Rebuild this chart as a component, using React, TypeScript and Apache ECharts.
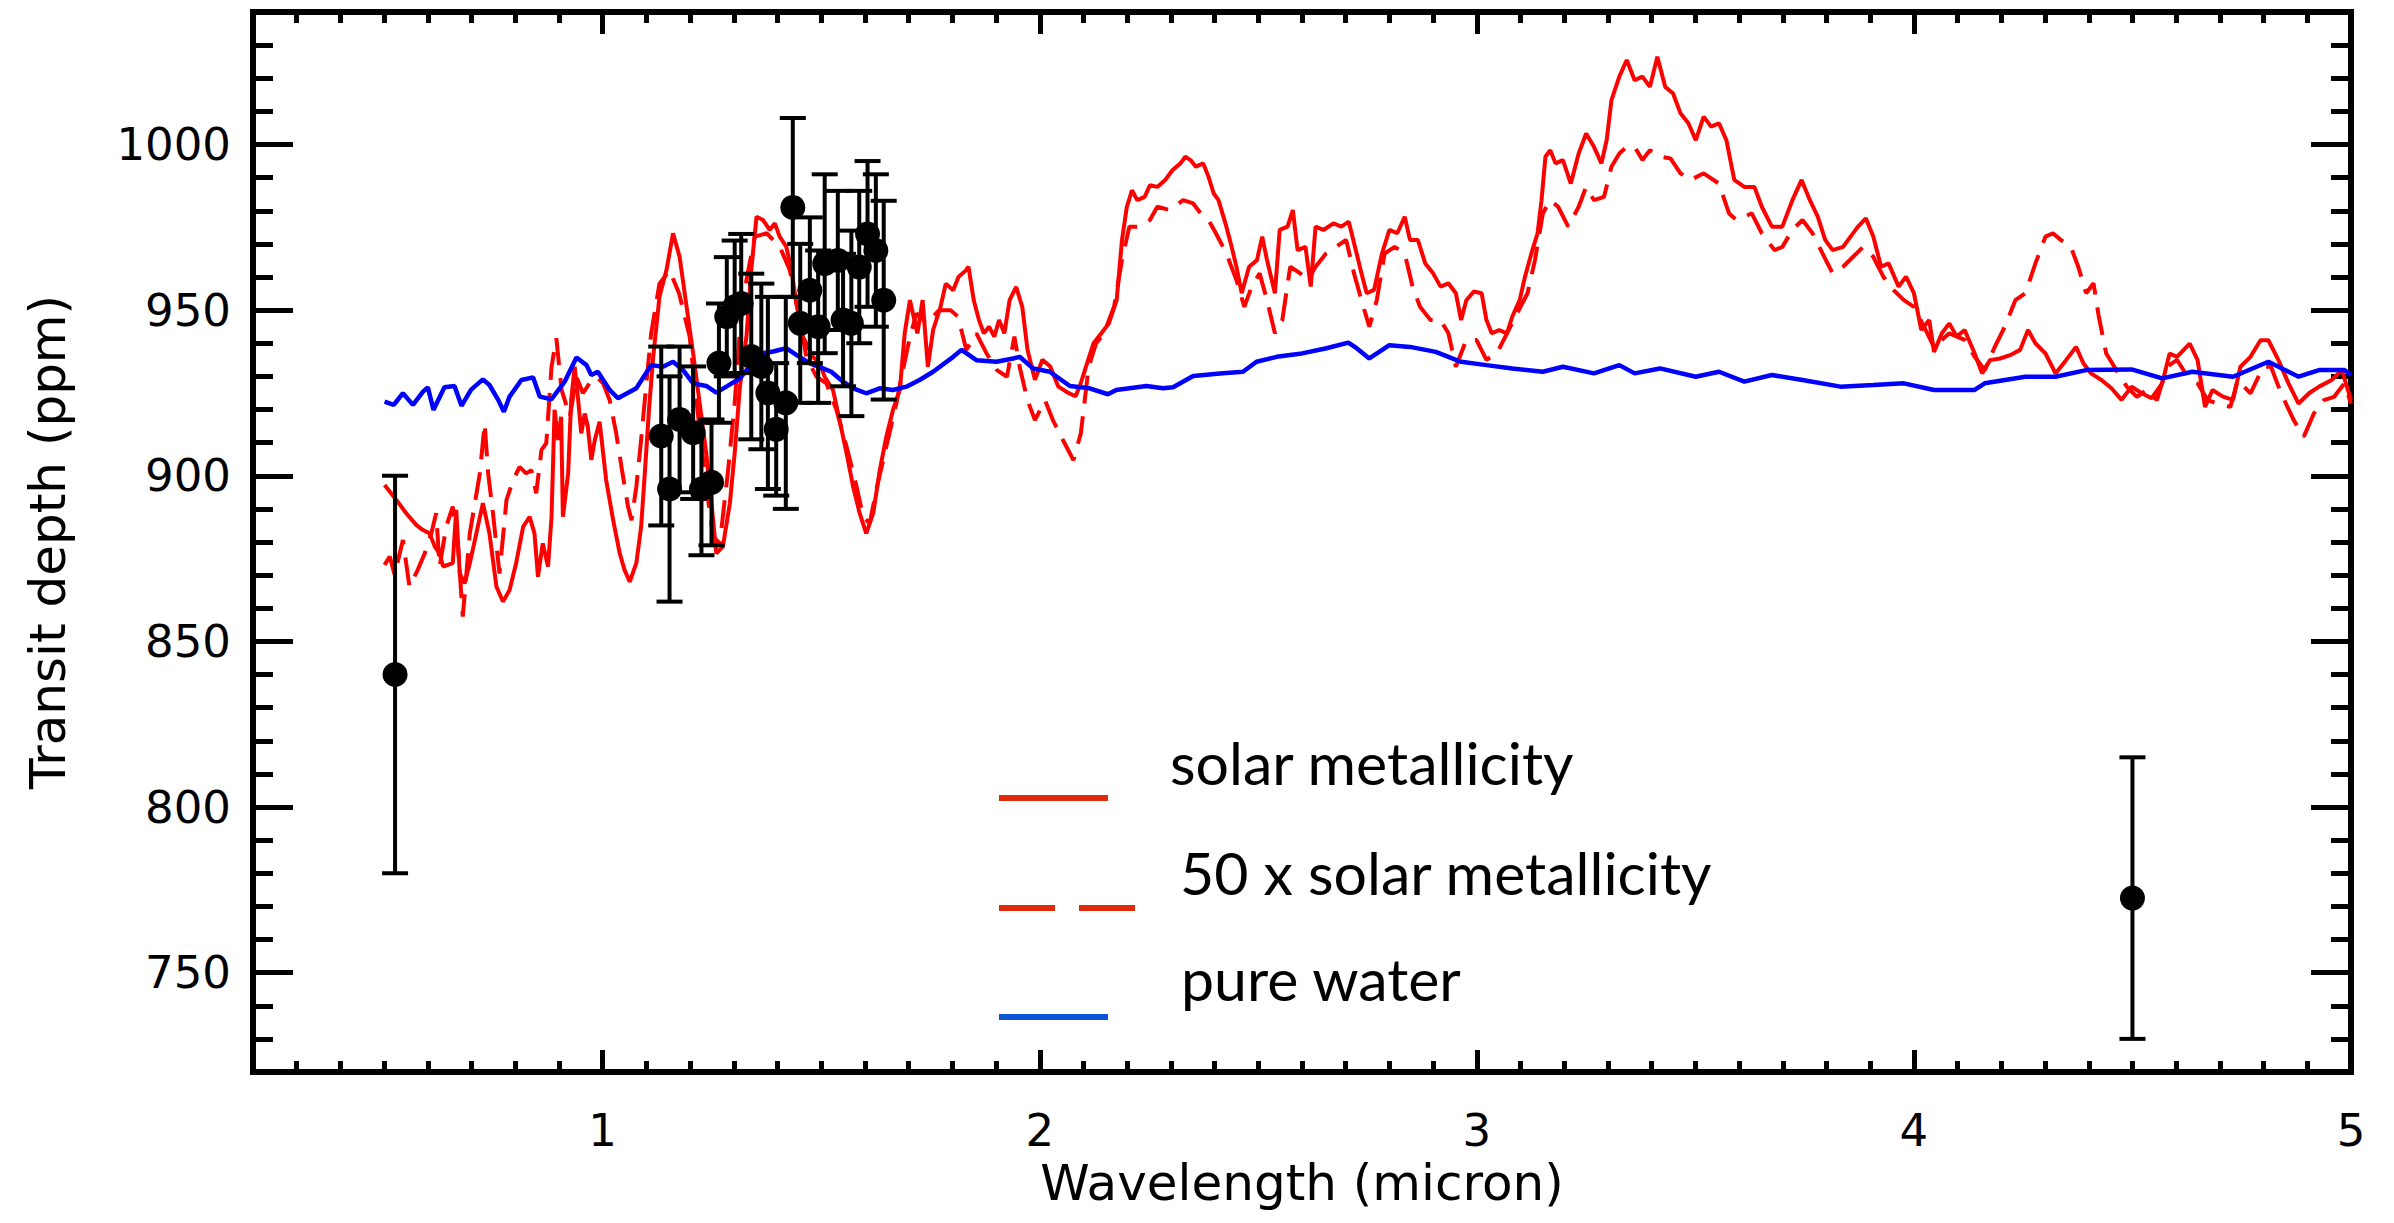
import React, { useEffect, useRef } from "react";
import * as echarts from "echarts";

// Model transmission spectra: [wavelength (micron), transit depth (ppm)]
const solarMetallicity: [number, number][] = [
  [0.501, 897.2], [0.528, 892.7], [0.551, 888.6], [0.574, 885.1], [0.589, 883.6], [0.604, 882.6],
  [0.616, 878.6], [0.627, 876.5], [0.635, 872.6], [0.657, 873.6], [0.665, 889.7], [0.673, 870.5],
  [0.684, 867.5], [0.696, 873.6], [0.711, 882.6], [0.726, 891.7], [0.741, 882.6], [0.757, 866.5],
  [0.772, 862.0], [0.787, 865.5], [0.802, 873.6], [0.818, 884.6], [0.833, 887.6], [0.844, 882.6],
  [0.852, 869.5], [0.863, 879.6], [0.875, 872.6], [0.883, 887.6], [0.890, 919.9], [0.898, 910.8],
  [0.905, 917.8], [0.909, 887.6], [0.921, 900.7], [0.928, 922.9], [0.936, 932.9], [0.944, 922.9],
  [0.951, 912.8], [0.959, 918.8], [0.966, 914.8], [0.974, 904.8], [0.982, 910.8], [0.993, 916.3],
  [1.008, 898.7], [1.024, 886.6], [1.039, 876.6], [1.050, 871.6], [1.062, 868.0], [1.077, 873.6],
  [1.088, 884.6], [1.096, 900.0], [1.106, 920.0], [1.115, 935.0], [1.130, 954.1], [1.146, 962.1],
  [1.161, 973.2], [1.176, 966.1], [1.191, 952.0], [1.207, 936.9], [1.222, 921.9], [1.237, 906.8],
  [1.249, 891.7], [1.260, 876.6], [1.275, 878.6], [1.291, 891.7], [1.302, 906.8], [1.314, 926.9],
  [1.329, 942.0], [1.340, 962.1], [1.352, 978.2], [1.367, 977.2], [1.382, 974.2], [1.394, 976.2],
  [1.405, 972.2], [1.420, 969.2], [1.432, 962.1], [1.443, 952.0], [1.458, 942.0], [1.481, 935.9],
  [1.497, 933.9], [1.508, 929.9], [1.527, 925.9], [1.542, 916.8], [1.558, 906.8], [1.573, 896.7],
  [1.588, 888.7], [1.603, 882.6], [1.619, 888.7], [1.634, 901.7], [1.649, 911.8], [1.664, 919.8],
  [1.680, 926.0], [1.691, 943.0], [1.703, 953.0], [1.720, 943.0], [1.732, 953.0], [1.744, 932.9],
  [1.756, 944.0], [1.773, 951.0], [1.785, 958.0], [1.802, 956.0], [1.814, 960.0], [1.831, 962.0],
  [1.837, 963.1], [1.849, 953.0], [1.861, 947.0], [1.872, 943.0], [1.884, 945.0], [1.896, 942.0],
  [1.907, 947.0], [1.919, 943.0], [1.931, 953.0], [1.946, 957.0], [1.960, 951.0], [1.972, 938.0],
  [1.989, 929.0], [2.006, 935.0], [2.024, 933.0], [2.042, 927.0], [2.065, 925.0], [2.082, 924.0],
  [2.094, 928.0], [2.106, 933.0], [2.123, 940.0], [2.141, 943.0], [2.158, 946.0], [2.176, 953.0],
  [2.188, 971.0], [2.199, 981.0], [2.211, 986.2], [2.223, 983.2], [2.240, 984.2], [2.252, 987.7],
  [2.269, 987.2], [2.287, 989.3], [2.304, 992.3], [2.322, 994.3], [2.333, 996.3], [2.345, 995.3],
  [2.357, 993.3], [2.374, 994.3], [2.386, 990.3], [2.398, 985.2], [2.409, 983.2], [2.427, 975.2],
  [2.439, 969.1], [2.450, 963.1], [2.462, 955.1], [2.479, 963.1], [2.497, 965.1], [2.509, 972.2],
  [2.520, 965.1], [2.538, 955.1], [2.549, 974.2], [2.567, 975.2], [2.579, 980.2], [2.590, 968.1],
  [2.608, 969.1], [2.620, 957.1], [2.631, 975.2], [2.649, 974.2], [2.672, 976.2], [2.690, 975.2],
  [2.707, 976.7], [2.725, 967.1], [2.736, 961.1], [2.748, 955.1], [2.765, 956.1], [2.783, 967.1],
  [2.800, 974.2], [2.818, 973.2], [2.835, 978.2], [2.847, 971.2], [2.865, 971.2], [2.882, 964.1],
  [2.900, 961.1], [2.917, 957.1], [2.935, 958.1], [2.952, 955.1], [2.964, 947.0], [2.976, 953.0],
  [2.993, 955.6], [3.011, 955.1], [3.022, 947.0], [3.034, 943.0], [3.051, 944.0], [3.069, 943.0],
  [3.081, 948.0], [3.098, 953.0], [3.110, 960.0], [3.127, 968.1], [3.139, 973.2], [3.148, 983.2],
  [3.157, 996.3], [3.168, 998.3], [3.180, 994.3], [3.197, 995.3], [3.215, 988.2], [3.233, 997.3],
  [3.250, 1003.3], [3.268, 999.3], [3.285, 994.3], [3.297, 1001.3], [3.308, 1013.4], [3.326, 1020.5],
  [3.343, 1025.5], [3.361, 1019.4], [3.379, 1020.5], [3.396, 1017.4], [3.413, 1026.5], [3.431, 1017.4],
  [3.449, 1015.4], [3.466, 1009.4], [3.484, 1006.4], [3.501, 1001.3], [3.519, 1008.4], [3.536, 1005.4],
  [3.554, 1006.4], [3.571, 1001.3], [3.589, 989.3], [3.612, 987.2], [3.635, 987.2], [3.652, 981.2],
  [3.675, 975.2], [3.699, 975.2], [3.722, 983.2], [3.743, 989.3], [3.762, 983.2], [3.780, 978.2],
  [3.797, 971.2], [3.814, 968.1], [3.838, 969.1], [3.855, 972.2], [3.872, 975.2], [3.890, 977.7],
  [3.907, 972.2], [3.925, 963.1], [3.942, 964.1], [3.965, 957.1], [3.982, 960.1], [4.000, 955.1],
  [4.017, 944.0], [4.035, 947.0], [4.046, 937.4], [4.064, 943.0], [4.081, 946.0], [4.098, 942.0],
  [4.116, 944.0], [4.139, 936.9], [4.156, 930.9], [4.174, 934.9], [4.197, 935.4], [4.220, 936.4],
  [4.243, 938.0], [4.261, 944.0], [4.278, 940.0], [4.301, 936.9], [4.324, 930.9], [4.348, 934.9],
  [4.371, 938.9], [4.388, 933.9], [4.405, 930.9], [4.429, 928.9], [4.452, 926.4], [4.475, 922.9],
  [4.498, 926.9], [4.521, 924.9], [4.544, 923.4], [4.568, 927.9], [4.585, 936.9], [4.602, 935.9],
  [4.631, 939.9], [4.649, 934.9], [4.666, 920.8], [4.683, 925.9], [4.707, 923.9], [4.730, 922.9],
  [4.747, 932.9], [4.770, 935.9], [4.793, 940.9], [4.811, 940.9], [4.834, 934.9], [4.857, 927.9],
  [4.880, 921.8], [4.904, 924.9], [4.927, 926.9], [4.956, 928.9], [4.979, 931.9], [5.000, 922.9],
];

const fiftyTimesSolar: [number, number][] = [
  [0.501, 873.1], [0.513, 875.6], [0.524, 870.1], [0.543, 880.6], [0.558, 866.5], [0.577, 871.6],
  [0.593, 876.6], [0.608, 882.6], [0.619, 888.7], [0.627, 872.6], [0.642, 884.6], [0.657, 890.7],
  [0.669, 878.6], [0.680, 857.5], [0.696, 882.6], [0.719, 900.7], [0.730, 915.8], [0.738, 900.7],
  [0.749, 888.7], [0.764, 870.5], [0.780, 892.7], [0.795, 898.7], [0.810, 902.7], [0.825, 900.7],
  [0.837, 901.7], [0.848, 894.7], [0.860, 907.8], [0.871, 909.8], [0.883, 932.9], [0.894, 941.5],
  [0.906, 925.9], [0.925, 917.8], [0.940, 929.9], [0.955, 924.9], [0.970, 927.9], [0.986, 929.9],
  [1.001, 927.9], [1.016, 922.9], [1.031, 912.8], [1.043, 902.7], [1.058, 890.7], [1.066, 886.6],
  [1.077, 896.7], [1.088, 910.8], [1.100, 927.9], [1.111, 943.0], [1.130, 958.0], [1.153, 962.0],
  [1.175, 955.0], [1.199, 942.0], [1.222, 913.8], [1.237, 896.7], [1.253, 881.6], [1.268, 879.6],
  [1.287, 901.7], [1.302, 921.9], [1.314, 944.0], [1.329, 959.1], [1.348, 972.2], [1.375, 973.2],
  [1.405, 969.2], [1.428, 962.1], [1.447, 950.0], [1.466, 935.9], [1.489, 929.9], [1.512, 927.9],
  [1.535, 919.8], [1.558, 908.8], [1.581, 896.7], [1.596, 887.6], [1.611, 885.6], [1.626, 895.7],
  [1.649, 908.8], [1.672, 921.9], [1.687, 931.9], [1.703, 942.0], [1.718, 949.0], [1.741, 946.0],
  [1.770, 950.0], [1.796, 950.0], [1.813, 948.0], [1.832, 938.0], [1.855, 943.0], [1.878, 937.0],
  [1.902, 931.9], [1.925, 929.9], [1.942, 942.0], [1.954, 932.9], [1.972, 922.8], [1.989, 916.8],
  [2.012, 922.8], [2.030, 916.8], [2.053, 910.8], [2.077, 904.7], [2.094, 912.8], [2.112, 932.9],
  [2.129, 940.0], [2.147, 943.0], [2.170, 951.0], [2.188, 965.1], [2.205, 975.2], [2.228, 975.2],
  [2.252, 977.2], [2.269, 981.2], [2.298, 980.2], [2.328, 983.2], [2.351, 982.2], [2.368, 979.2],
  [2.386, 977.2], [2.403, 973.2], [2.427, 967.1], [2.450, 959.1], [2.468, 951.0], [2.485, 957.1],
  [2.503, 961.1], [2.520, 953.0], [2.538, 943.0], [2.555, 947.0], [2.573, 963.1], [2.596, 961.1],
  [2.614, 959.1], [2.631, 963.1], [2.655, 967.1], [2.678, 969.1], [2.701, 971.2], [2.719, 961.1],
  [2.736, 953.0], [2.754, 945.0], [2.771, 953.0], [2.789, 967.1], [2.812, 969.1], [2.835, 967.1],
  [2.853, 957.1], [2.870, 951.0], [2.894, 947.0], [2.917, 947.0], [2.935, 943.0], [2.952, 932.9],
  [2.976, 941.0], [2.999, 941.0], [3.022, 935.0], [3.046, 937.0], [3.069, 943.0], [3.092, 949.0],
  [3.116, 955.1], [3.133, 965.1], [3.151, 979.2], [3.168, 983.2], [3.186, 981.2], [3.209, 975.2],
  [3.233, 981.2], [3.250, 987.2], [3.268, 983.2], [3.291, 984.2], [3.308, 993.3], [3.326, 997.3],
  [3.343, 999.3], [3.361, 999.3], [3.379, 995.3], [3.396, 998.3], [3.419, 996.3], [3.443, 995.8],
  [3.466, 991.3], [3.489, 989.3], [3.519, 991.3], [3.554, 988.2], [3.577, 979.2], [3.594, 977.2],
  [3.629, 979.2], [3.652, 973.2], [3.681, 968.1], [3.699, 969.1], [3.722, 974.2], [3.745, 977.2],
  [3.768, 973.2], [3.791, 967.1], [3.814, 961.1], [3.838, 963.1], [3.861, 966.1], [3.884, 969.1],
  [3.907, 966.1], [3.930, 960.1], [3.953, 956.1], [3.977, 953.0], [4.000, 951.0], [4.023, 945.0],
  [4.046, 938.9], [4.081, 943.0], [4.116, 941.0], [4.139, 935.9], [4.162, 931.9], [4.185, 938.9],
  [4.208, 945.0], [4.232, 953.0], [4.255, 955.1], [4.278, 964.1], [4.301, 972.2], [4.318, 973.2],
  [4.336, 971.2], [4.359, 969.1], [4.376, 963.1], [4.394, 955.1], [4.411, 958.1], [4.423, 948.0],
  [4.440, 936.9], [4.463, 931.9], [4.487, 926.9], [4.510, 923.8], [4.533, 925.9], [4.556, 922.8],
  [4.579, 932.9], [4.602, 935.0], [4.626, 929.9], [4.649, 927.9], [4.672, 922.8], [4.695, 921.8],
  [4.724, 920.8], [4.741, 928.9], [4.770, 924.9], [4.799, 932.9], [4.817, 932.9], [4.840, 924.9],
  [4.869, 916.8], [4.892, 911.8], [4.915, 918.8], [4.938, 922.8], [4.961, 923.8], [4.985, 927.9],
  [5.000, 921.8],
];

const pureWater: [number, number][] = [
  [0.501, 922.4], [0.522, 921.4], [0.543, 924.9], [0.566, 921.4], [0.589, 925.4], [0.600, 926.7],
  [0.613, 919.9], [0.638, 926.7], [0.661, 927.1], [0.677, 921.1], [0.699, 926.0], [0.726, 929.1],
  [0.741, 927.4], [0.761, 922.9], [0.774, 919.3], [0.787, 923.9], [0.814, 928.9], [0.841, 929.7],
  [0.856, 923.9], [0.883, 923.1], [0.913, 928.4], [0.940, 935.7], [0.963, 933.4], [0.974, 930.4],
  [0.989, 931.4], [1.016, 925.9], [1.035, 923.4], [1.077, 926.4], [1.111, 933.4], [1.138, 932.9],
  [1.161, 934.4], [1.184, 931.9], [1.207, 927.9], [1.237, 927.1], [1.260, 925.1], [1.283, 926.9],
  [1.314, 929.4], [1.336, 932.9], [1.363, 936.9], [1.390, 937.5], [1.420, 938.5], [1.443, 936.5],
  [1.474, 933.9], [1.504, 932.4], [1.523, 931.4], [1.550, 928.4], [1.573, 926.4], [1.603, 924.9],
  [1.634, 926.4], [1.664, 925.9], [1.695, 926.9], [1.725, 928.9], [1.756, 931.4], [1.802, 935.9],
  [1.821, 938.0], [1.855, 934.9], [1.901, 934.4], [1.939, 935.4], [1.954, 935.9], [1.985, 932.4],
  [2.023, 931.4], [2.069, 927.1], [2.114, 926.4], [2.156, 924.6], [2.175, 925.9], [2.244, 927.1],
  [2.282, 926.4], [2.305, 926.7], [2.351, 930.1], [2.412, 930.9], [2.465, 931.4], [2.496, 934.4],
  [2.542, 935.9], [2.595, 936.8], [2.656, 938.5], [2.706, 940.2], [2.725, 938.5], [2.754, 935.4],
  [2.800, 939.4], [2.847, 938.9], [2.906, 937.4], [2.964, 934.4], [3.022, 933.4], [3.081, 932.4],
  [3.151, 931.4], [3.197, 932.9], [3.268, 930.9], [3.326, 933.4], [3.361, 930.9], [3.419, 932.4],
  [3.501, 929.9], [3.554, 931.4], [3.612, 928.4], [3.675, 930.4], [3.745, 928.9], [3.832, 926.9],
  [3.907, 927.4], [3.977, 927.9], [4.046, 925.9], [4.139, 925.9], [4.162, 927.9], [4.255, 929.9],
  [4.324, 929.9], [4.394, 931.9], [4.498, 932.1], [4.568, 929.4], [4.637, 931.4], [4.730, 929.9],
  [4.811, 934.4], [4.880, 929.9], [4.927, 931.9], [4.985, 931.9], [5.000, 930.4],
];

// Measured transit depths with 1-sigma uncertainties
const obsWavelength = [
  0.525, 1.134, 1.153, 1.176, 1.207, 1.226, 1.249, 1.266, 1.284, 1.302, 1.317, 1.340, 1.363, 1.378,
  1.397, 1.419, 1.435, 1.452, 1.474, 1.493, 1.508, 1.538, 1.550, 1.569, 1.587, 1.606, 1.625, 1.643, 4.5,
];
const obsDepth = [
  840, 912, 896, 917, 913, 896, 898, 934, 948, 951, 952, 936, 933, 925,
  914, 922, 981, 946, 956, 945, 964, 965, 947, 946, 963, 973, 968, 953, 772.5,
];
const obsError = [
  60, 27, 34, 22, 20, 20, 19, 18, 18, 20, 21, 25, 25, 29,
  20, 32, 27, 24, 22, 23, 27, 21, 20, 28, 23, 22, 23, 30, 42.5,
];

const xMajorTicks = [1, 2, 3, 4, 5];
const yMajorTicks = [750, 800, 850, 900, 950, 1000];
const legendLabels = ["solar metallicity", "50 x solar metallicity", "pure water"];

// Minor ticks every 0.1 micron and every 10 ppm, skipping the labelled ones
const xMinorTicks: number[] = [];
for (let i = 3; i <= 49; i++) if (i % 10 !== 0) xMinorTicks.push(i / 10);
const yMinorTicks: number[] = [];
for (let v = 730; v <= 1030; v += 10) if (v % 50 !== 0) yMinorTicks.push(v);

const FRAME = { color: "#000", width: 6, cap: "square" as const };
const TICK_STYLE = { color: "#000", width: 5 };
const LABEL_FONT = "DejaVu Sans";

function xAxisDef(position: "top" | "bottom", ticks: number[], len: number, frame: boolean, labels: boolean) {
  return {
    type: "value",
    min: 0.2,
    max: 5,
    position,
    axisLine: { show: frame, onZero: false, lineStyle: FRAME },
    axisTick: { show: true, inside: true, length: len, customValues: ticks, lineStyle: TICK_STYLE },
    axisLabel: labels
      ? {
          show: true,
          customValues: ticks,
          margin: 36,
          fontSize: 45,
          fontFamily: LABEL_FONT,
          color: "#000",
          formatter: (v: number) => String(v),
        }
      : { show: false },
    splitLine: { show: false },
  };
}

function yAxisDef(position: "left" | "right", ticks: number[], len: number, frame: boolean, labels: boolean) {
  return {
    type: "value",
    min: 720,
    max: 1040,
    position,
    axisLine: { show: frame, onZero: false, lineStyle: FRAME },
    axisTick: { show: true, inside: true, length: len, customValues: ticks, lineStyle: TICK_STYLE },
    axisLabel: labels
      ? {
          show: true,
          customValues: ticks,
          margin: 22,
          fontSize: 45,
          fontFamily: LABEL_FONT,
          color: "#000",
          formatter: (v: number) => String(v),
        }
      : { show: false },
    splitLine: { show: false },
  };
}

const LEGEND_RED = "#e02a0c";
const LEGEND_BLUE = "#0a55d6";

export default function App() {
  const ref = useRef<HTMLDivElement>(null);

  useEffect(() => {
    if (!ref.current) return;
    const chart = echarts.init(ref.current, null, { renderer: "svg" });

    const xBottom = {
      ...xAxisDef("bottom", xMajorTicks, 22, true, true),
      name: "Wavelength (micron)",
      nameLocation: "middle",
      nameGap: 84,
      nameTextStyle: { fontSize: 50, fontFamily: LABEL_FONT, color: "#000" },
    };
    const yLeft = {
      ...yAxisDef("left", yMajorTicks, 40, true, true),
      name: "Transit depth (ppm)",
      nameLocation: "middle",
      nameGap: 180,
      nameTextStyle: { fontSize: 50, fontFamily: LABEL_FONT, color: "#000" },
    };

    const errorData = obsWavelength.map((w, i) => [w, obsDepth[i], obsError[i]]);
    const pointData = obsWavelength.map((w, i) => [w, obsDepth[i]]);

    const legendText = (text: string, x: number, y: number) => ({
      type: "text",
      x,
      y,
      style: { text, fontSize: 59, fontFamily: "Lato", fill: "#000", verticalAlign: "middle", textVerticalAlign: "middle" },
    });

    chart.setOption({
      animation: false,
      backgroundColor: "#fff",
      grid: { left: 253, right: 43, top: 12, bottom: 151, containLabel: false },
      xAxis: [
        xBottom,
        xAxisDef("bottom", xMinorTicks, 11, false, false),
        xAxisDef("top", xMajorTicks, 22, true, false),
        xAxisDef("top", xMinorTicks, 11, false, false),
      ],
      yAxis: [
        yLeft,
        yAxisDef("left", yMinorTicks, 20, false, false),
        yAxisDef("right", yMajorTicks, 40, true, false),
        yAxisDef("right", yMinorTicks, 20, false, false),
      ],
      series: [
        {
          name: "solar metallicity",
          type: "line",
          data: solarMetallicity,
          showSymbol: false,
          lineStyle: { color: "#ff0000", width: 4 },
          z: 2,
        },
        {
          name: "50 x solar metallicity",
          type: "line",
          data: fiftyTimesSolar,
          showSymbol: false,
          lineStyle: { color: "#ff0000", width: 4, type: [28, 13] },
          z: 2,
        },
        {
          name: "pure water",
          type: "line",
          data: pureWater,
          showSymbol: false,
          lineStyle: { color: "#0000ff", width: 4.5 },
          z: 3,
        },
        {
          name: "uncertainty",
          type: "custom",
          data: errorData,
          encode: { x: 0, y: 1 },
          z: 4,
          renderItem: (_params: any, api: any) => {
            const x = api.value(0);
            const y = api.value(1);
            const e = api.value(2);
            const top = api.coord([x, y + e]);
            const bot = api.coord([x, y - e]);
            const hw = 13;
            const st = { stroke: "#000", lineWidth: 4 };
            return {
              type: "group",
              children: [
                { type: "line", shape: { x1: top[0], y1: top[1], x2: bot[0], y2: bot[1] }, style: st },
                { type: "line", shape: { x1: top[0] - hw, y1: top[1], x2: top[0] + hw, y2: top[1] }, style: st },
                { type: "line", shape: { x1: bot[0] - hw, y1: bot[1], x2: bot[0] + hw, y2: bot[1] }, style: st },
              ],
            };
          },
        },
        {
          name: "observed",
          type: "scatter",
          data: pointData,
          symbol: "circle",
          symbolSize: 25,
          itemStyle: { color: "#000", opacity: 1 },
          z: 5,
        },
      ],
      graphic: [
        { type: "rect", shape: { x: 999, y: 795, width: 109, height: 6 }, style: { fill: LEGEND_RED } },
        { type: "rect", shape: { x: 999, y: 905, width: 56, height: 6 }, style: { fill: LEGEND_RED } },
        { type: "rect", shape: { x: 1079, y: 905, width: 56, height: 6 }, style: { fill: LEGEND_RED } },
        { type: "rect", shape: { x: 999, y: 1014, width: 109, height: 6 }, style: { fill: LEGEND_BLUE } },
        legendText(legendLabels[0], 1170, 762),
        legendText(legendLabels[1], 1180, 872),
        legendText(legendLabels[2], 1181, 978),
      ],
    });

    return () => chart.dispose();
  }, []);

  return (
    <div
      ref={ref}
      style={{ position: "fixed", left: 0, top: 0, width: 2394, height: 1223, background: "#fff" }}
    />
  );
}
